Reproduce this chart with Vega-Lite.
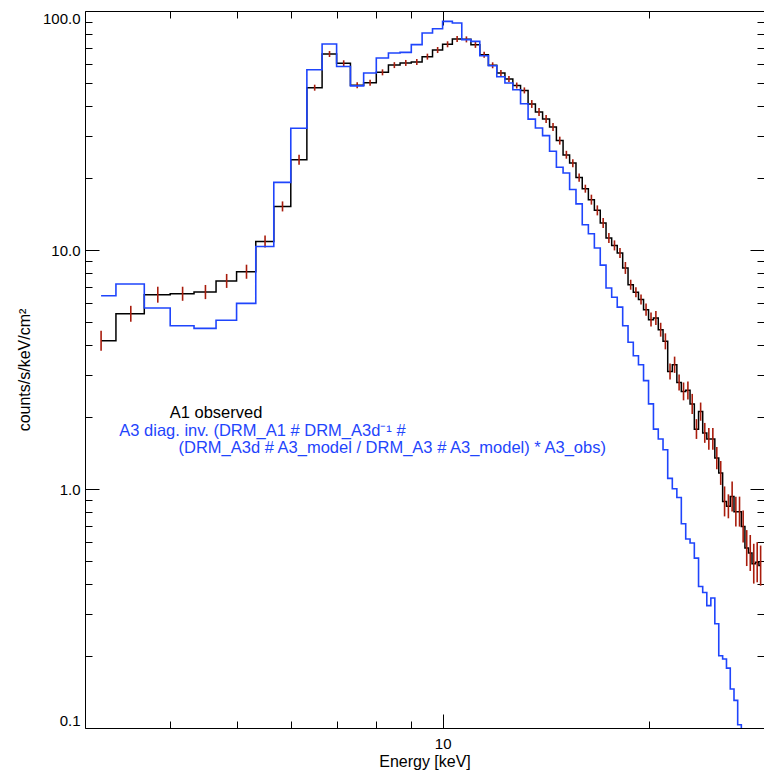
{
  "$schema": "https://vega.github.io/schema/vega-lite/v6.json",
  "width": 679,
  "height": 717,
  "autosize": {"type": "none"},
  "padding": {"left": 85, "top": 11, "right": 0, "bottom": 43},
  "background": "white",
  "config": {
    "view": {"stroke": null},
    "axis": {"grid": false, "labelFont": "Liberation Sans", "titleFont": "Liberation Sans", "labelFontSize": 15, "titleFontSize": 16, "titleFontWeight": "normal", "labelColor": "black", "titleColor": "black", "tickColor": "black", "domainColor": "black", "tickWidth": 1, "domainWidth": 1}
  },
  "datasets": {
    "obs": [
      {"E": 3.167, "v": 4.17, "lo": 3.79, "hi": 4.59},
      {"E": 3.5, "v": 5.41, "lo": 5.01, "hi": 5.84},
      {"E": 3.833, "v": 6.5, "lo": 6.02, "hi": 7.02},
      {"E": 4.167, "v": 6.56, "lo": 6.13, "hi": 7.02},
      {"E": 4.5, "v": 6.67, "lo": 6.23, "hi": 7.14},
      {"E": 4.833, "v": 7.42, "lo": 6.94, "hi": 7.94},
      {"E": 5.167, "v": 8.11, "lo": 7.58, "hi": 8.68},
      {"E": 5.5, "v": 10.86, "lo": 10.25, "hi": 11.51},
      {"E": 5.833, "v": 15.22, "lo": 14.5, "hi": 15.97},
      {"E": 6.167, "v": 23.86, "lo": 22.74, "hi": 25.04},
      {"E": 6.5, "v": 47.77, "lo": 46.41, "hi": 49.17},
      {"E": 6.833, "v": 66.1, "lo": 64.2, "hi": 68.0},
      {"E": 7.167, "v": 60.4, "lo": 58.7, "hi": 62.2},
      {"E": 7.5, "v": 48.9, "lo": 47.5, "hi": 50.3},
      {"E": 7.833, "v": 50.1, "lo": 48.7, "hi": 51.6},
      {"E": 8.167, "v": 55.4, "lo": 53.8, "hi": 57.0},
      {"E": 8.5, "v": 59.4, "lo": 57.7, "hi": 61.1},
      {"E": 8.833, "v": 60.6, "lo": 58.9, "hi": 62.4},
      {"E": 9.167, "v": 61.2, "lo": 59.5, "hi": 63.0},
      {"E": 9.5, "v": 64.4, "lo": 62.6, "hi": 66.3},
      {"E": 9.833, "v": 68.7, "lo": 66.7, "hi": 70.7},
      {"E": 10.167, "v": 72.6, "lo": 70.5, "hi": 74.7},
      {"E": 10.5, "v": 76.4, "lo": 74.2, "hi": 78.6},
      {"E": 10.833, "v": 76.1, "lo": 73.9, "hi": 78.3},
      {"E": 11.167, "v": 72.2, "lo": 70.1, "hi": 74.3},
      {"E": 11.5, "v": 65.6, "lo": 63.7, "hi": 67.5},
      {"E": 11.833, "v": 59.3, "lo": 57.6, "hi": 61.0},
      {"E": 12.167, "v": 55.0, "lo": 53.4, "hi": 56.6},
      {"E": 12.5, "v": 51.9, "lo": 50.4, "hi": 53.4},
      {"E": 12.833, "v": 48.8, "lo": 47.4, "hi": 50.2},
      {"E": 13.167, "v": 46.5, "lo": 45.2, "hi": 47.9},
      {"E": 13.5, "v": 40.8, "lo": 39.3, "hi": 42.4},
      {"E": 13.833, "v": 37.8, "lo": 36.4, "hi": 39.3},
      {"E": 14.167, "v": 35.3, "lo": 34.0, "hi": 36.7},
      {"E": 14.5, "v": 32.7, "lo": 31.5, "hi": 34.0},
      {"E": 14.833, "v": 28.7, "lo": 27.6, "hi": 29.8},
      {"E": 15.167, "v": 25.0, "lo": 24.1, "hi": 26.0},
      {"E": 15.5, "v": 23.1, "lo": 22.2, "hi": 24.0},
      {"E": 15.833, "v": 20.1, "lo": 19.3, "hi": 20.9},
      {"E": 16.167, "v": 18.05, "lo": 17.37, "hi": 18.76},
      {"E": 16.5, "v": 16.24, "lo": 15.48, "hi": 17.04},
      {"E": 16.833, "v": 14.65, "lo": 13.96, "hi": 15.37},
      {"E": 17.167, "v": 12.97, "lo": 12.36, "hi": 13.61},
      {"E": 17.5, "v": 11.22, "lo": 10.69, "hi": 11.77},
      {"E": 17.833, "v": 10.45, "lo": 9.96, "hi": 10.97},
      {"E": 18.167, "v": 9.71, "lo": 9.25, "hi": 10.19},
      {"E": 18.5, "v": 8.41, "lo": 7.94, "hi": 8.91},
      {"E": 18.833, "v": 7.16, "lo": 6.82, "hi": 7.51},
      {"E": 19.167, "v": 6.65, "lo": 6.34, "hi": 6.98},
      {"E": 19.5, "v": 6.2, "lo": 5.91, "hi": 6.51},
      {"E": 19.833, "v": 5.63, "lo": 5.31, "hi": 5.97},
      {"E": 20.167, "v": 5.11, "lo": 4.78, "hi": 5.47},
      {"E": 20.5, "v": 5.19, "lo": 4.85, "hi": 5.55},
      {"E": 20.833, "v": 4.64, "lo": 4.34, "hi": 4.96},
      {"E": 21.167, "v": 4.15, "lo": 3.84, "hi": 4.48},
      {"E": 21.5, "v": 3.1, "lo": 2.87, "hi": 3.35},
      {"E": 21.833, "v": 3.31, "lo": 3.06, "hi": 3.58},
      {"E": 22.167, "v": 2.79, "lo": 2.58, "hi": 3.01},
      {"E": 22.5, "v": 2.56, "lo": 2.35, "hi": 2.79},
      {"E": 22.833, "v": 2.59, "lo": 2.37, "hi": 2.82},
      {"E": 23.167, "v": 2.27, "lo": 2.06, "hi": 2.5},
      {"E": 23.5, "v": 1.78, "lo": 1.62, "hi": 1.96},
      {"E": 23.833, "v": 2.11, "lo": 1.93, "hi": 2.3},
      {"E": 24.167, "v": 1.715, "lo": 1.56, "hi": 1.89},
      {"E": 24.5, "v": 1.62, "lo": 1.46, "hi": 1.8},
      {"E": 24.833, "v": 1.62, "lo": 1.46, "hi": 1.8},
      {"E": 25.167, "v": 1.348, "lo": 1.21, "hi": 1.5},
      {"E": 25.5, "v": 1.167, "lo": 1.04, "hi": 1.31},
      {"E": 25.833, "v": 0.887, "lo": 0.768, "hi": 1.025},
      {"E": 26.167, "v": 0.846, "lo": 0.754, "hi": 0.95},
      {"E": 26.5, "v": 0.931, "lo": 0.806, "hi": 1.076},
      {"E": 26.833, "v": 0.804, "lo": 0.696, "hi": 0.929},
      {"E": 27.167, "v": 0.804, "lo": 0.696, "hi": 0.929},
      {"E": 27.5, "v": 0.696, "lo": 0.597, "hi": 0.812},
      {"E": 27.833, "v": 0.566, "lo": 0.476, "hi": 0.673},
      {"E": 28.167, "v": 0.54, "lo": 0.454, "hi": 0.642},
      {"E": 28.5, "v": 0.487, "lo": 0.402, "hi": 0.59},
      {"E": 28.833, "v": 0.494, "lo": 0.407, "hi": 0.599},
      {"E": 29.167, "v": 0.478, "lo": 0.394, "hi": 0.58}
    ],
    "inv": [
      {"E": 3.167, "v": 6.44}, {"E": 3.5, "v": 7.21}, {"E": 3.833, "v": 5.72}, {"E": 4.167, "v": 4.82},
      {"E": 4.5, "v": 4.7}, {"E": 4.833, "v": 5.08}, {"E": 5.167, "v": 5.98}, {"E": 5.5, "v": 10.35},
      {"E": 5.833, "v": 19.18}, {"E": 6.167, "v": 32.3}, {"E": 6.5, "v": 56.8}, {"E": 6.833, "v": 72.8},
      {"E": 7.167, "v": 58.6}, {"E": 7.5, "v": 48.6}, {"E": 7.833, "v": 55.0}, {"E": 8.167, "v": 63.6},
      {"E": 8.5, "v": 66.7}, {"E": 8.833, "v": 67.1}, {"E": 9.167, "v": 72.3}, {"E": 9.5, "v": 80.9},
      {"E": 9.833, "v": 84.3}, {"E": 10.167, "v": 90.5}, {"E": 10.5, "v": 89.1}, {"E": 10.833, "v": 75.9},
      {"E": 11.167, "v": 74.6}, {"E": 11.5, "v": 65.0}, {"E": 11.833, "v": 59.0}, {"E": 12.167, "v": 53.1},
      {"E": 12.5, "v": 50.0}, {"E": 12.833, "v": 46.8}, {"E": 13.167, "v": 40.9}, {"E": 13.5, "v": 35.3},
      {"E": 13.833, "v": 32.4}, {"E": 14.167, "v": 30.1}, {"E": 14.5, "v": 25.9}, {"E": 14.833, "v": 22.2},
      {"E": 15.167, "v": 21.0}, {"E": 15.5, "v": 17.9}, {"E": 15.833, "v": 15.6}, {"E": 16.167, "v": 12.76},
      {"E": 16.5, "v": 11.7}, {"E": 16.833, "v": 10.19}, {"E": 17.167, "v": 8.64}, {"E": 17.5, "v": 6.93},
      {"E": 17.833, "v": 6.34}, {"E": 18.167, "v": 5.77}, {"E": 18.5, "v": 4.82}, {"E": 18.833, "v": 4.11},
      {"E": 19.167, "v": 3.61}, {"E": 19.5, "v": 3.31}, {"E": 19.833, "v": 2.84}, {"E": 20.167, "v": 2.27},
      {"E": 20.5, "v": 1.78}, {"E": 20.833, "v": 1.62}, {"E": 21.167, "v": 1.46}, {"E": 21.5, "v": 1.108},
      {"E": 21.833, "v": 1.003}, {"E": 22.167, "v": 0.922}, {"E": 22.5, "v": 0.716}, {"E": 22.833, "v": 0.618},
      {"E": 23.167, "v": 0.594}, {"E": 23.5, "v": 0.514}, {"E": 23.833, "v": 0.391}, {"E": 24.167, "v": 0.369},
      {"E": 24.5, "v": 0.325}, {"E": 24.833, "v": 0.35}, {"E": 25.167, "v": 0.273}, {"E": 25.5, "v": 0.2007},
      {"E": 25.833, "v": 0.1944}, {"E": 26.167, "v": 0.178}, {"E": 26.5, "v": 0.1456}, {"E": 26.833, "v": 0.1305},
      {"E": 27.167, "v": 0.1032}, {"E": 27.5, "v": 0.08}
    ],
    "blackText": [{"E": 3.99, "v": 1.982, "t": "A1 observed"}],
    "blueText": [
      {"E": 3.367, "v": 1.671, "t": "A3 diag. inv. (DRM_A1 # DRM_A3d⁻¹ #"},
      {"E": 4.11, "v": 1.414, "t": "(DRM_A3d # A3_model / DRM_A3 # A3_model) * A3_obs)"}
    ]
  },
  "resolve": {"axis": {"x": "independent", "y": "independent"}},
  "layer": [
    {
      "data": {"name": "obs"},
      "mark": {"type": "line", "interpolate": "step", "color": "black", "strokeWidth": 1.5, "clip": true},
      "encoding": {
        "x": {"field": "E", "type": "quantitative", "scale": {"type": "log", "domain": [3, 29.5], "nice": false},
          "axis": {"orient": "bottom", "values": [10], "tickSize": -14, "labelPadding": 22, "format": "d", "title": "Energy [keV]", "titlePadding": 2, "labelFlush": false}},
        "y": {"field": "v", "type": "quantitative", "scale": {"type": "log", "domain": [0.1, 100], "nice": false},
          "axis": {"orient": "left", "values": [0.1, 1, 10, 100], "tickSize": -14, "labelPadding": 19, "format": ".1f", "title": "counts/s/keV/cm²", "titlePadding": 10, "labelFlush": true}}
      }
    },
    {
      "data": {"name": "obs"},
      "mark": {"type": "rule", "color": "#a81c0c", "strokeWidth": 1.6, "clip": true},
      "encoding": {
        "x": {"field": "E", "type": "quantitative", "scale": {"type": "log", "domain": [3, 29.5], "nice": false},
          "axis": {"orient": "bottom", "values": [4, 5, 6, 7, 8, 9, 20], "tickSize": -7, "labels": false, "domain": false, "title": null}},
        "y": {"field": "lo", "type": "quantitative", "scale": {"type": "log", "domain": [0.1, 100], "nice": false},
          "axis": {"orient": "left", "values": [0.2, 0.3, 0.4, 0.5, 0.6, 0.7, 0.8, 0.9, 2, 3, 4, 5, 6, 7, 8, 9, 20, 30, 40, 50, 60, 70, 80, 90], "tickSize": -7, "labels": false, "domain": false, "title": null}},
        "y2": {"field": "hi"}
      }
    },
    {
      "data": {"name": "inv"},
      "mark": {"type": "line", "interpolate": "step", "color": "#1f45fc", "strokeWidth": 1.6, "clip": true},
      "encoding": {
        "x": {"field": "E", "type": "quantitative", "scale": {"type": "log", "domain": [3, 29.5], "nice": false},
          "axis": {"orient": "top", "values": [10], "tickSize": -14, "labels": false, "title": null}},
        "y": {"field": "v", "type": "quantitative", "scale": {"type": "log", "domain": [0.1, 100], "nice": false},
          "axis": {"orient": "right", "values": [0.1, 1, 10, 100], "tickSize": -14, "labels": false, "domain": false, "title": null}}
      }
    },
    {
      "data": {"name": "blackText"},
      "mark": {"type": "text", "align": "left", "baseline": "alphabetic", "font": "Liberation Sans", "fontSize": 16.5, "color": "black"},
      "encoding": {
        "x": {"field": "E", "type": "quantitative", "scale": {"type": "log", "domain": [3, 29.5], "nice": false},
          "axis": {"orient": "top", "values": [4, 5, 6, 7, 8, 9, 20], "tickSize": -7, "labels": false, "domain": false, "title": null}},
        "y": {"field": "v", "type": "quantitative", "scale": {"type": "log", "domain": [0.1, 100], "nice": false},
          "axis": {"orient": "right", "values": [0.2, 0.3, 0.4, 0.5, 0.6, 0.7, 0.8, 0.9, 2, 3, 4, 5, 6, 7, 8, 9, 20, 30, 40, 50, 60, 70, 80, 90], "tickSize": -7, "labels": false, "domain": false, "title": null}},
        "text": {"field": "t"}
      }
    },
    {
      "data": {"name": "blueText"},
      "mark": {"type": "text", "align": "left", "baseline": "alphabetic", "font": "Liberation Sans", "fontSize": 16.5, "color": "#1f45fc"},
      "encoding": {
        "x": {"field": "E", "type": "quantitative", "scale": {"type": "log", "domain": [3, 29.5], "nice": false}, "axis": null},
        "y": {"field": "v", "type": "quantitative", "scale": {"type": "log", "domain": [0.1, 100], "nice": false}, "axis": null},
        "text": {"field": "t"}
      }
    }
  ]
}
